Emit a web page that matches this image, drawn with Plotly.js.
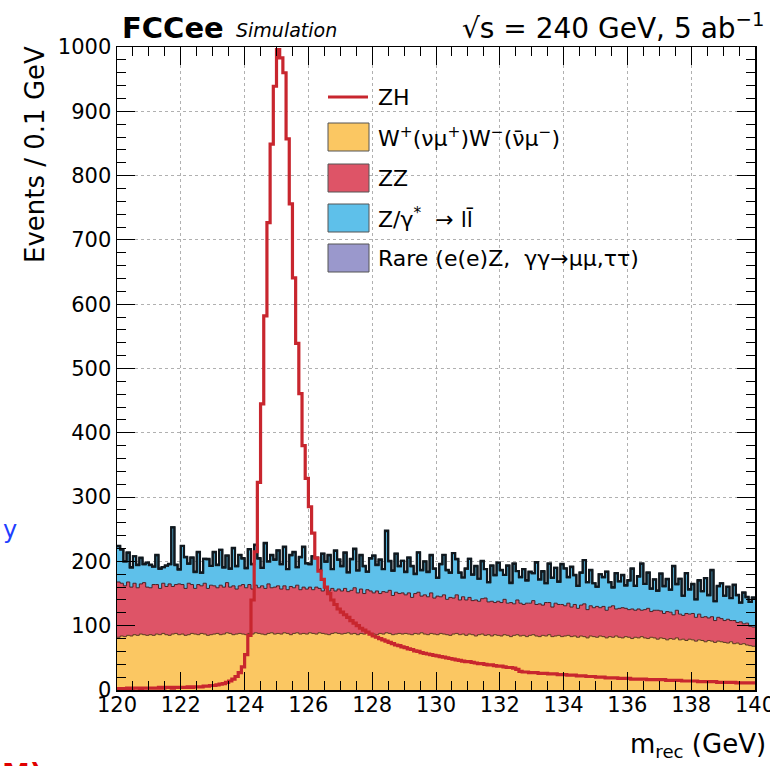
<!DOCTYPE html>
<html>
<head>
<meta charset="utf-8">
<script src="https://cdn.plot.ly/plotly-3.0.1.min.js"></script>
<style>html,body{margin:0;padding:0;background:#fff;}#chart{width:770px;height:766px;}</style>
</head>
<body>
<div id="chart"></div>
<script>
// ---- data: m_rec histograms, 0.1 GeV bins from 120 to 140 ----
const binLow = 120, binWidth = 0.1, nBins = 200;

const seriesNames = ["ZH", "W<sup>+</sup>(νμ<sup>+</sup>)W<sup>−</sup>(ν̄μ<sup>−</sup>)", "ZZ", "Z/γ<sup>*</sup>  → ll̄", "Rare (e(e)Z,  γγ→μμ,ττ)"];

const zh = [
2,2,2,3,2,3,3,2,3,3,
3,3,3,4,3,4,4,3,4,4,
4,4,5,4,5,5,5,6,6,7,
7,8,9,10,12,14,17,21,27,36,
55,85,140,215,323,445,582,727,849,939,
996,983,960,857,756,641,539,461,380,329,
285,244,205,185,172,160,150,140,133,126,
121,117,113,108,104,100,96,93,90,87,
84,82,80,78,76,74,72,70,69,67,
66,64,63,61,60,58,57,56,55,54,
53,52,51,50,49,48,47,46,45,44,
44,43,42,41,41,40,39,39,38,37,
37,36,35,35,34,32,29,28,28,27,
27,27,26,26,26,25,25,25,24,24,
24,23,23,23,22,22,22,21,21,21,
20,20,20,19,19,19,19,18,18,18,
18,17,17,17,17,17,16,16,16,16,
16,16,15,15,15,15,15,14,14,14,
14,14,13,13,13,13,13,13,12,12,
12,12,12,12,11,11,11,11,11,11];

const ww = [
82,84,83,85,84,86,85,87,86,85,
86,85,87,86,88,86,85,87,88,86,
87,85,86,88,87,86,88,87,85,86,
87,88,86,87,89,88,86,87,88,87,
86,88,87,89,88,87,86,88,89,87,
88,87,89,88,86,88,89,87,88,87,
89,88,87,89,88,87,86,88,89,88,
87,88,89,87,88,86,88,87,89,88,
87,86,88,87,89,88,86,87,88,87,
88,87,86,88,87,89,87,86,88,87,
86,88,87,86,85,87,88,86,87,85,
87,86,84,86,87,85,86,84,86,85,
84,86,85,83,85,86,84,85,83,85,
86,84,83,85,84,86,83,84,85,83,
84,85,83,84,82,84,83,81,84,83,
82,84,83,81,83,82,84,82,81,83,
82,80,82,81,83,81,80,82,81,79,
81,80,78,80,79,81,78,79,77,79,
78,76,78,77,75,77,76,74,76,75,
74,73,75,72,73,71,72,70,69,68];

const zz = [
86,82,79,83,76,80,74,78,81,75,
73,79,77,72,78,75,80,74,76,79,
77,73,80,76,71,78,74,79,73,77,
75,71,77,73,78,72,76,70,74,77,
73,76,70,74,71,75,72,77,70,73,
74,70,73,68,75,71,74,69,72,70,
71,68,73,69,66,72,68,70,65,69,
67,70,64,68,71,65,69,63,67,66,
64,68,62,66,63,67,61,65,62,64,
60,64,58,62,65,57,61,59,63,56,
60,57,61,55,59,56,60,54,58,55,
57,53,56,52,55,58,51,54,50,53,
52,55,50,53,49,54,51,48,52,50,
53,49,51,47,52,50,46,51,48,50,
47,50,46,49,45,48,51,44,47,45,
48,44,47,43,46,49,42,45,47,44,
43,46,42,45,41,44,47,40,43,45,
42,39,44,41,38,43,40,37,42,39,
41,37,40,36,39,35,38,34,37,36,
34,37,33,36,32,35,31,34,30,30];

const zg = [
55,52,38,45,30,42,35,40,28,38,
35,28,45,30,25,32,30,92,30,22,
60,48,30,42,25,50,20,38,45,30,
52,35,55,30,42,28,58,35,48,40,
30,55,38,62,45,28,70,35,50,42,
55,38,60,32,48,55,28,50,62,40,
35,52,45,28,58,40,55,30,62,45,
38,55,30,48,60,35,52,42,28,50,
58,40,52,35,95,45,38,60,42,50,
35,55,48,30,62,40,52,38,58,45,
28,50,62,45,38,70,55,42,30,48,
60,40,52,35,58,45,30,55,42,60,
50,38,58,30,62,45,40,55,35,48,
42,65,38,52,30,60,45,55,35,62,
58,40,62,45,35,50,68,42,55,38,
30,52,45,60,38,28,55,42,50,35,
45,62,38,50,72,40,55,35,48,30,
58,42,50,35,75,40,55,30,62,38,
45,28,52,40,60,35,72,30,48,55,
38,50,35,55,42,30,48,40,38,45];

const rare = [
1,1,0,1,1,0,1,1,1,0,
1,0,1,1,0,1,1,0,1,1,
0,1,1,0,1,1,1,0,1,0,
1,1,0,1,0,1,1,1,0,1,
1,0,1,1,1,0,1,0,1,1,
0,1,1,0,1,1,0,1,1,0,
1,0,1,1,0,1,1,0,1,1,
1,1,0,1,1,0,1,1,0,1,
0,1,1,0,1,1,1,0,1,0,
1,0,1,1,0,1,0,1,1,1,
1,1,0,1,1,0,1,1,0,1,
0,1,1,0,1,0,1,1,1,0,
1,0,1,1,1,0,1,0,1,1,
1,1,0,1,0,1,1,0,1,1,
0,1,1,1,0,1,0,1,1,0,
1,0,1,0,1,1,1,0,1,1,
1,1,0,1,1,0,1,1,0,1,
0,1,1,0,1,1,0,1,1,1,
1,0,1,1,0,1,1,0,1,0,
1,1,0,1,1,0,1,1,0,1];

const xTickVals = [120,122,124,126,128,130,132,134,136,138,140];
const yTickVals = [0,100,200,300,400,500,600,700,800,900,1000];

// ---- build stepped histograms ----
const edges = [];
for (let i = 0; i <= nBins; i++) edges.push(+(binLow + i * binWidth).toFixed(1));
function stepY(v) { return v.concat([v[v.length - 1]]); }
function addArr(a, b) { return a.map((v, i) => v + b[i]); }

const cW = ww.slice();
const cZZ = addArr(cW, zz);
const cZg = addArr(cZZ, zg);
const cRare = addArr(cZg, rare);

const colW = "#fbc762", colZZ = "#de5467", colZg = "#5ec0ea", colRare = "#9a98cc", colZH = "#c8262e";

const traces = [
  {x: edges, y: stepY(cW), type: "scatter", mode: "lines", line: {shape: "hv", color: "#5c3b1e", width: 1}, fill: "tozeroy", fillcolor: colW, hoverinfo: "skip"},
  {x: edges, y: stepY(cZZ), type: "scatter", mode: "lines", line: {shape: "hv", color: "#4a1c22", width: 1}, fill: "tonexty", fillcolor: colZZ, hoverinfo: "skip"},
  {x: edges, y: stepY(cZg), type: "scatter", mode: "lines", line: {shape: "hv", color: "#1b2a33", width: 2}, fill: "tonexty", fillcolor: colZg, hoverinfo: "skip"},
  {x: edges, y: stepY(cRare), type: "scatter", mode: "lines", line: {shape: "hv", color: "#10181e", width: 2.2}, fill: "tonexty", fillcolor: colRare, hoverinfo: "skip"},
  {x: edges, y: stepY(zh), type: "scatter", mode: "lines", line: {shape: "hv", color: colZH, width: 3.2}, hoverinfo: "skip"}
];

// ---- layout helpers (pixel -> paper) ----
const L = 117, R = 755, T = 47, B = 690;
const fx = px => (px - L) / (R - L);
const fy = py => (B - py) / (B - T);
const font = "DejaVu Sans, Liberation Sans, Arial, sans-serif";

const shapes = [];
const annotations = [];

// legend
shapes.push({type: "line", xref: "paper", yref: "paper", x0: fx(328), x1: fx(368), y0: fy(97), y1: fy(97), line: {color: colZH, width: 3}});
const boxFill = [colW, colZZ, colZg, colRare];
const boxTop = [123, 164, 204, 244];
for (let i = 0; i < 4; i++) {
  shapes.push({type: "rect", xref: "paper", yref: "paper", x0: fx(328), x1: fx(369), y0: fy(boxTop[i]), y1: fy(boxTop[i] + 28), fillcolor: boxFill[i], line: {color: "#555", width: 1}});
}
const legY = [97, 137, 178, 218, 258];
for (let i = 0; i < 5; i++) {
  annotations.push({xref: "paper", yref: "paper", x: fx(376), y: fy(legY[i]), xanchor: "left", yanchor: "middle", showarrow: false, text: seriesNames[i], font: {family: font, size: 22, color: "#000"}});
}

// headers
annotations.push({xref: "paper", yref: "paper", x: fx(120), y: fy(28), xanchor: "left", yanchor: "middle", showarrow: false, text: "<b>FCCee</b>", font: {family: font, size: 29, color: "#000"}});
annotations.push({xref: "paper", yref: "paper", x: fx(234), y: fy(30), xanchor: "left", yanchor: "middle", showarrow: false, text: "<i>Simulation</i>", font: {family: font, size: 19, color: "#000"}});
annotations.push({xref: "paper", yref: "paper", x: fx(766), y: fy(27), xanchor: "right", yanchor: "middle", showarrow: false, text: "√s = 240 GeV, 5 ab<sup>−1</sup>", font: {family: font, size: 28, color: "#000"}});
// axis titles
annotations.push({xref: "paper", yref: "paper", x: fx(35), y: fy(155), xanchor: "center", yanchor: "middle", textangle: -90, showarrow: false, text: "Events / 0.1 GeV", font: {family: font, size: 26, color: "#000"}});
annotations.push({xref: "paper", yref: "paper", x: fx(768), y: fy(745), xanchor: "right", yanchor: "middle", showarrow: false, text: "m<sub>rec</sub> (GeV)", font: {family: font, size: 26, color: "#000"}});
// stray slide text at edges
annotations.push({xref: "paper", yref: "paper", x: fx(1), y: fy(530), xanchor: "left", yanchor: "middle", showarrow: false, text: "y", font: {family: font, size: 24, color: "#1f3fff"}});
annotations.push({xref: "paper", yref: "paper", x: fx(0), y: fy(756), xanchor: "left", yanchor: "top", showarrow: false, text: "<b>M)</b>", font: {family: font, size: 28, color: "#e00000"}});

const layout = {
  width: 770, height: 766,
  margin: {l: L, r: 770 - R, t: T, b: 766 - B, pad: 0},
  paper_bgcolor: "#fff", plot_bgcolor: "#fff",
  showlegend: false,
  font: {family: font, size: 21, color: "#000"},
  xaxis: {
    range: [119.9999, 140.0001], tickmode: "array", tickvals: xTickVals, ticktext: xTickVals.map(String),
    ticks: "inside", ticklen: 18, tickwidth: 1, tickcolor: "#000",
    minor: {dtick: 0.5, ticks: "inside", ticklen: 9, tickcolor: "#000", showgrid: false},
    showline: true, linecolor: "#000", linewidth: 1.5, mirror: "allticks",
    showgrid: true, gridcolor: "#b0b0b0", griddash: "dot", gridwidth: 1,
    zeroline: false, ticklabelstandoff: -5, ticklabeloverflow: "allow",
    tickfont: {family: font, size: 21, color: "#000"}
  },
  yaxis: {
    range: [0, 1000.01], tickmode: "array", tickvals: yTickVals, ticktext: yTickVals.map(String),
    ticks: "inside", ticklen: 18, tickwidth: 1, tickcolor: "#000",
    minor: {dtick: 20, ticks: "inside", ticklen: 9, tickcolor: "#000", showgrid: false},
    showline: true, linecolor: "#000", linewidth: 1.5, mirror: "allticks",
    showgrid: true, gridcolor: "#b0b0b0", griddash: "dot", gridwidth: 1,
    zeroline: false, ticklabeloverflow: "allow",
    tickfont: {family: font, size: 21, color: "#000"}
  },
  shapes: shapes,
  annotations: annotations
};

Plotly.newPlot("chart", traces, layout, {staticPlot: true, displayModeBar: false});
</script>
</body>
</html>
